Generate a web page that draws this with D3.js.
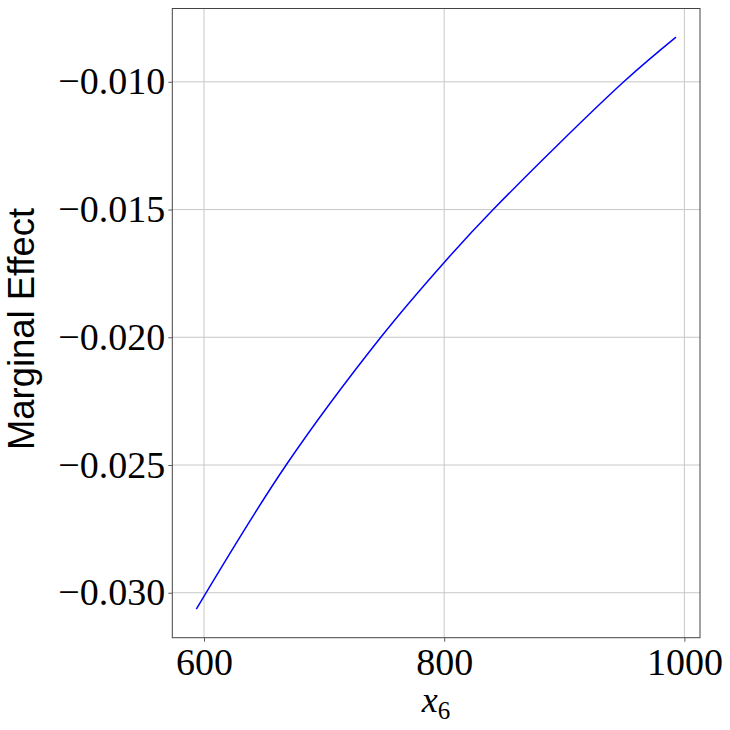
<!DOCTYPE html>
<html>
<head>
<meta charset="utf-8">
<script src="https://cdn.jsdelivr.net/npm/d3@7"></script>
<style>
  body { margin: 0; background: #fff; }
  svg { display: block; }
</style>
</head>
<body>
<div id="chart"></div>
<script>
// values
const xValues = [593.6, 668.4, 747.2, 800, 840.8, 949.5, 993];
const effectValues = [-0.03064, -0.025, -0.020, -0.01707, -0.015, -0.010, -0.00825];
const xTicks = [600, 800, 1000];
const yTicks = [-0.030, -0.025, -0.020, -0.015, -0.010];

const width = 730, height = 730;
const margin = { top: 8.5, right: 30, bottom: 92.3, left: 172.3 };

const svg = d3.select('#chart')
    .append('svg')
    .attr('width', width)
    .attr('height', height);

const xScale = d3.scaleLinear()
    .domain([573.6, 1013])
    .range([margin.left, width - margin.right]);

const yScale = d3.scaleLinear()
    .domain([-0.03176, -0.00713])
    .range([height - margin.bottom, margin.top]);

const serif = '"Liberation Serif", "DejaVu Serif", serif';

// grid
svg.append('g')
    .selectAll('line')
    .data(xTicks)
    .enter()
    .append('line')
    .attr('x1', d => xScale(d)).attr('x2', d => xScale(d))
    .attr('y1', margin.top).attr('y2', height - margin.bottom)
    .attr('stroke', '#c8c8c8')
    .attr('stroke-width', 1);

svg.append('g')
    .selectAll('line')
    .data(yTicks)
    .enter()
    .append('line')
    .attr('x1', margin.left).attr('x2', width - margin.right)
    .attr('y1', d => yScale(d)).attr('y2', d => yScale(d))
    .attr('stroke', '#c8c8c8')
    .attr('stroke-width', 1);

// axes
const xAxis = svg.append('g')
    .attr('transform', `translate(0,${height - margin.bottom})`)
    .call(d3.axisBottom(xScale).tickValues(xTicks).tickSize(4).tickPadding(5).tickFormat(d3.format('d')));

const yAxis = svg.append('g')
    .attr('transform', `translate(${margin.left},0)`)
    .call(d3.axisLeft(yScale).tickValues(yTicks).tickSize(4).tickPadding(3)
        .tickFormat(d => '\u2212' + Math.abs(d).toFixed(3)));

[xAxis, yAxis].forEach(ax => {
    ax.select('.domain').remove();
    ax.selectAll('.tick line').attr('stroke', '#333').attr('stroke-width', 0.8);
    ax.selectAll('.tick text')
        .attr('fill', '#000')
        .style('font-family', serif)
        .style('font-size', '38px');
});
xAxis.selectAll('.tick text').attr('dy', '0.75em');

// frame
svg.append('rect')
    .attr('x', margin.left)
    .attr('y', margin.top)
    .attr('width', width - margin.right - margin.left)
    .attr('height', height - margin.bottom - margin.top)
    .attr('fill', 'none')
    .attr('stroke', '#444')
    .attr('stroke-width', 1);

// curve
const line = d3.line()
    .x((d, i) => xScale(xValues[i]))
    .y(d => yScale(d))
    .curve(d3.curveCatmullRom);

svg.append('path')
    .datum(effectValues)
    .attr('d', line)
    .attr('fill', 'none')
    .attr('stroke', '#0000ff')
    .attr('stroke-width', 1.5);

// labels
svg.append('text')
    .attr('transform', 'translate(34,329) rotate(-90)')
    .attr('text-anchor', 'middle')
    .attr('textLength', 242)
    .attr('lengthAdjust', 'spacingAndGlyphs')
    .style('font-family', '"Liberation Sans", "DejaVu Sans", sans-serif')
    .style('font-size', '36px')
    .text('Marginal Effect');

const xl = svg.append('text')
    .attr('x', 436)
    .attr('y', 712)
    .attr('text-anchor', 'middle')
    .style('font-family', serif)
    .style('font-size', '36px');
xl.append('tspan').style('font-style', 'italic').text('x');
xl.append('tspan').attr('dy', 7).style('font-size', '25px').text('6');
</script>
</body>
</html>
